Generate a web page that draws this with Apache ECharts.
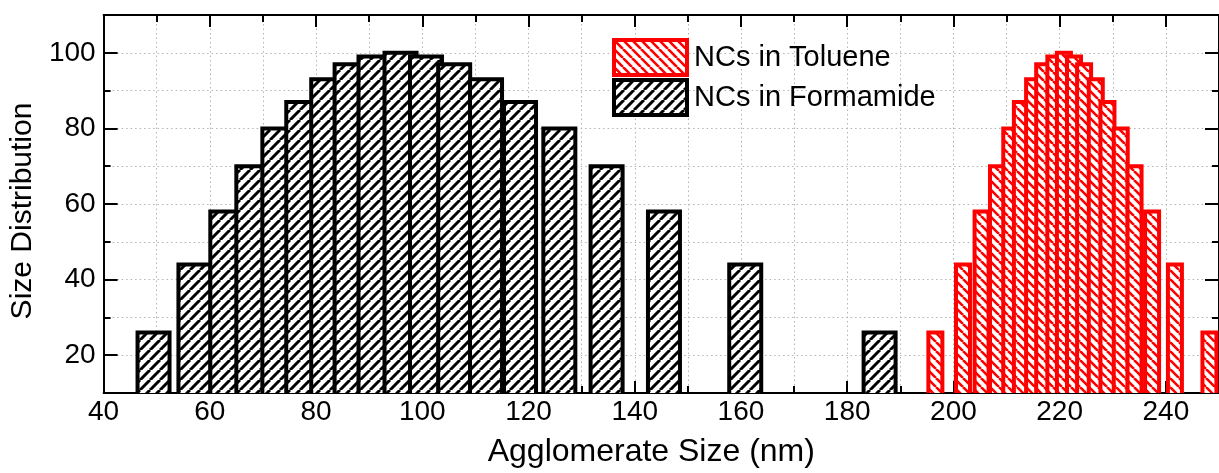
<!DOCTYPE html>
<html>
<head>
<meta charset="utf-8">
<script src="https://cdn.jsdelivr.net/npm/echarts@6/dist/echarts.min.js"></script>
<style>
html,body{margin:0;padding:0;background:#fff;}
#chart{width:1219px;height:473px;}
</style>
</head>
<body>
<div id="chart"></div>
<script>
// ---- data ----
const formamideSize = [49.4, 57.1, 63.1, 68.0, 72.9, 77.4, 82.1, 86.5, 91.0, 95.9, 100.7, 106.0, 112.0, 118.4, 125.8, 134.7, 145.5, 160.8, 186.1];
const formamideDist = [26, 44, 58, 70, 80, 87, 93, 97, 99, 100, 99, 97, 93, 87, 80, 70, 58, 44, 26];
const tolueneSize = [196.6, 201.8, 205.3, 208.2, 210.7, 212.7, 215.0, 216.9, 219.0, 220.8, 222.7, 224.6, 226.8, 229.0, 231.5, 234.1, 237.4, 241.7, 248.2];
const tolueneDist = [26, 44, 58, 70, 80, 87, 93, 97, 99, 100, 99, 97, 93, 87, 80, 70, 58, 44, 26];
const xTickLabels = [40, 60, 80, 100, 120, 140, 160, 180, 200, 220, 240];
const yTickLabels = [20, 40, 60, 80, 100];
const seriesNames = ['NCs in Toluene', 'NCs in Formamide'];
const xTitle = 'Agglomerate Size (nm)';
const yTitle = 'Size Distribution';

const FONT = 'Arial, "Liberation Sans", sans-serif';

function hatch(color, dir, size, lw) {
  const c = document.createElement('canvas');
  c.width = size; c.height = size;
  const g = c.getContext('2d');
  g.fillStyle = '#fff';
  g.fillRect(0, 0, size, size);
  g.strokeStyle = color;
  g.lineWidth = lw;
  g.beginPath();
  [-size, 0, size].forEach(o => {
    if (dir === '/') { g.moveTo(o, size); g.lineTo(o + size, 0); }
    else { g.moveTo(o, 0); g.lineTo(o + size, size); }
  });
  g.stroke();
  return c;
}
const blackPat = { image: hatch('#000', '/', 10, 3), repeat: 'repeat' };
const redPat = { image: hatch('#ff0000', '\\', 9, 2.6), repeat: 'repeat' };

const split = { show: true, lineStyle: { color: '#b4b4b4', width: 1, type: [1.5, 3] } };
const axLine = { show: true, lineStyle: { color: '#000', width: 2 } };

function xAx(pos, main, long) {
  return {
    type: 'value', position: pos, min: 40, max: 250, interval: 10,
    axisLine: main ? axLine : { show: false },
    axisTick: long
      ? { show: true, inside: true, length: 12, customValues: xTickLabels, lineStyle: { color: '#000', width: 2 } }
      : { show: true, inside: true, length: 7, lineStyle: { color: '#000', width: 2 } },
    axisLabel: (pos === 'bottom' && main)
      ? { show: true, customValues: xTickLabels, fontSize: 28, fontFamily: FONT, color: '#000', margin: 5 }
      : { show: false },
    splitLine: (pos === 'bottom' && main) ? split : { show: false },
    name: (pos === 'bottom' && main) ? xTitle : '',
    nameLocation: 'middle', nameGap: 43,
    nameTextStyle: { fontSize: 32, fontFamily: FONT, color: '#000', padding: [0, 20, 0, 0] }
  };
}
function yAx(pos, main, long) {
  return {
    type: 'value', position: pos, min: 10, max: 110, interval: 10,
    axisLine: main ? axLine : { show: false },
    axisTick: long
      ? { show: true, inside: true, length: 14, customValues: yTickLabels, lineStyle: { color: '#000', width: 2 } }
      : { show: true, inside: true, length: 7, lineStyle: { color: '#000', width: 2 } },
    axisLabel: (pos === 'left' && main)
      ? { show: true, customValues: yTickLabels, fontSize: 28, fontFamily: FONT, color: '#000', margin: 8 }
      : { show: false },
    splitLine: (pos === 'left' && main) ? split : { show: false },
    name: (pos === 'left' && main) ? yTitle : '',
    nameLocation: 'middle', nameGap: 62,
    nameTextStyle: { fontSize: 30, fontFamily: FONT, color: '#000', padding: [0, 14, 0, 0] }
  };
}

function barRenderer(widthPx, pattern, stroke, lw) {
  return function (params, api) {
    const x = api.value(0), y = api.value(1);
    const top = api.coord([x, y]);
    const bottom = params.coordSys.y + params.coordSys.height + 6;
    return {
      type: 'rect',
      shape: { x: top[0] - widthPx / 2, y: top[1], width: widthPx, height: bottom - top[1] },
      style: { fill: pattern, stroke: stroke, lineWidth: lw }
    };
  };
}

const chart = echarts.init(document.getElementById('chart'), null, { renderer: 'canvas' });
chart.setOption({
  animation: false,
  backgroundColor: '#fff',
  grid: { left: 102, top: 15, width: 1119, height: 384, containLabel: false },
  xAxis: [xAx('bottom', true, false), xAx('bottom', false, true), xAx('top', true, false), xAx('top', false, true)],
  yAxis: [yAx('left', true, false), yAx('left', false, true), yAx('right', true, false), yAx('right', false, true)],
  legend: {
    data: seriesNames,
    orient: 'vertical', left: 612, top: 38, padding: 0,
    itemWidth: 73, itemHeight: 35, itemGap: 1, icon: 'rect',
    itemStyle: { borderWidth: 4 },
    textStyle: { fontSize: 29, fontFamily: FONT, color: '#000', padding: [0, 0, 0, 2] }
  },
  series: [
    {
      name: seriesNames[1], type: 'custom', xAxisIndex: 0, yAxisIndex: 0, clip: true,
      renderItem: barRenderer(32, blackPat, '#000', 4),
      encode: { x: 0, y: 1 },
      itemStyle: { color: blackPat, borderColor: '#000', borderWidth: 4 },
      data: formamideSize.map((x, i) => [x, formamideDist[i]])
    },
    {
      name: seriesNames[0], type: 'custom', xAxisIndex: 0, yAxisIndex: 0, clip: true,
      renderItem: barRenderer(14, redPat, '#ff0000', 4),
      encode: { x: 0, y: 1 },
      itemStyle: { color: redPat, borderColor: '#ff0000', borderWidth: 4 },
      data: tolueneSize.map((x, i) => [x, tolueneDist[i]])
    }
  ]
});
</script>
</body>
</html>
